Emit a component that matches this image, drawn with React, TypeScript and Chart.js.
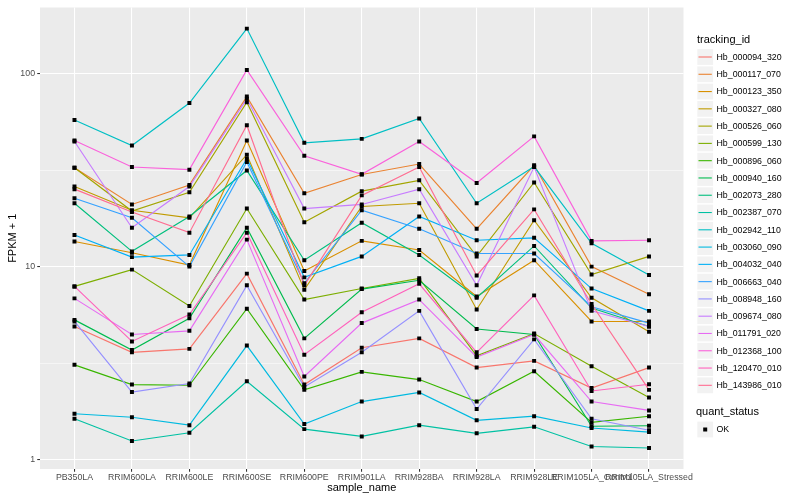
import React, { useEffect, useRef } from "react";
import { Chart, registerables } from "chart.js";

Chart.register(...registerables);

const categories = [
  "PB350LA", "RRIM600LA", "RRIM600LE", "RRIM600SE", "RRIM600PE", "RRIM901LA",
  "RRIM928BA", "RRIM928LA", "RRIM928LE", "RRIM105LA_Control", "RRIM105LA_Stressed",
];

const trackingIds = [
  "Hb_000094_320", "Hb_000117_070", "Hb_000123_350", "Hb_000327_080", "Hb_000526_060",
  "Hb_000599_130", "Hb_000896_060", "Hb_000940_160", "Hb_002073_280", "Hb_002387_070",
  "Hb_002942_110", "Hb_003060_090", "Hb_004032_040", "Hb_006663_040", "Hb_008948_160",
  "Hb_009674_080", "Hb_011791_020", "Hb_012368_100", "Hb_120470_010", "Hb_143986_010",
];

const seriesColors = [
  "#F8766D", "#EA8331", "#D89000", "#C09B00", "#A3A500", "#7CAE00", "#39B600", "#00BB4E",
  "#00BF7D", "#00C1A3", "#00BFC4", "#00BAE0", "#00B0F6", "#35A2FF", "#9590FF", "#C77CFF",
  "#E76BF3", "#FA62DB", "#FF62BC", "#FF6C91",
];

// FPKM + 1 per sample (order of categories)
const hb000094_320 = [4.9, 3.6, 3.75, 9.2, 2.45, 3.8, 4.25, 3.0, 3.25, 2.35, 3.0];
const hb000117_070 = [32.5, 21, 26.5, 76, 24, 30, 34, 15.7, 33.5, 10, 7.2];
const hb000123_350 = [13.5, 11.8, 10.2, 45, 9.5, 13.6, 12.2, 7.0, 10.8, 5.2, 5.2];
const hb000327_080 = [26, 19.6, 17.9, 38, 7.6, 20.5, 21.3, 6.0, 17.4, 6.9, 4.6];
const hb000526_060 = [32.5, 19.4, 24.3, 71, 17, 24.6, 28, 11.3, 27.3, 9.1, 11.3];
const hb000599_130 = [7.9, 9.65, 6.25, 20, 6.75, 7.7, 8.7, 3.45, 4.5, 3.05, 2.1];
const hb000896_060 = [3.1, 2.45, 2.43, 6.05, 2.3, 2.85, 2.6, 2.0, 2.87, 1.56, 1.68];
const hb000940_160 = [5.3, 3.7, 5.4, 15.9, 4.25, 7.65, 8.5, 4.75, 4.45, 1.49, 1.5];
const hb002073_280 = [21.3, 12, 18.2, 31.5, 10.8, 16.9, 11.5, 6.9, 12.8, 6.1, 4.9];
const hb002387_070 = [1.63, 1.25, 1.38, 2.55, 1.44, 1.32, 1.51, 1.37, 1.48, 1.17, 1.15];
const hb002942_110 = [57.5, 42.4, 70.4, 171, 43.8, 45.9, 58.6, 21.3, 33, 13.2, 9.05];
const hb003060_090 = [1.73, 1.66, 1.51, 3.9, 1.53, 2.0, 2.23, 1.6, 1.68, 1.46, 1.39];
const hb004032_040 = [14.6, 11.2, 11.5, 36.2, 8.8, 11.3, 18.2, 13.7, 14.1, 7.7, 5.9];
const hb006663_040 = [22.6, 17.9, 10, 34.8, 8.2, 19.6, 15.7, 11.7, 11.7, 6.2, 5.1];
const hb008948_160 = [5.2, 2.24, 2.48, 8.0, 2.38, 3.6, 5.9, 1.83, 4.2, 1.63, 1.42];
const hb009674_080 = [44.5, 15.9, 26, 74, 20, 21, 25.2, 8.0, 32.8, 5.9, 4.9];
const hb011791_020 = [6.85, 4.45, 4.65, 13.8, 2.7, 5.1, 6.75, 3.4, 4.45, 2.0, 1.8];
const hb012368_100 = [45, 32.8, 31.8, 104.5, 37.5, 30.1, 44.5, 27.1, 47.3, 13.6, 13.7];
const hb120470_010 = [7.9, 4.1, 5.65, 15, 3.5, 5.8, 8.15, 3.6, 7.1, 2.27, 2.46];
const hb143986_010 = [25.2, 19.2, 15, 54, 8.0, 23.4, 32.8, 9.0, 19.8, 6.4, 2.3];

const seriesValues = [
  hb000094_320, hb000117_070, hb000123_350, hb000327_080, hb000526_060,
  hb000599_130, hb000896_060, hb000940_160, hb002073_280, hb002387_070,
  hb002942_110, hb003060_090, hb004032_040, hb006663_040, hb008948_160,
  hb009674_080, hb011791_020, hb012368_100, hb120470_010, hb143986_010,
];

const yMajorTicks = [1, 10, 100];
const yMinorTicks = [Math.sqrt(10), Math.sqrt(1000)];
const quantStatus = ["OK"];

const FONT = '"Liberation Sans", Arial, Helvetica, sans-serif';

const isMajor = (v: number) => yMajorTicks.some((m) => Math.abs(m - v) < 1e-9);

const ggPlugin = {
  id: "ggstyle",
  beforeDraw(chart: any) {
    const { ctx, chartArea: a } = chart;
    ctx.save();
    ctx.fillStyle = "#FFFFFF";
    ctx.fillRect(0, 0, chart.width, chart.height);
    ctx.fillStyle = "#EBEBEB";
    ctx.fillRect(a.left, a.top, a.right - a.left, a.bottom - a.top);
    ctx.restore();
  },
  afterDraw(chart: any) {
    const { ctx, chartArea: a } = chart;
    ctx.save();
    // axis titles
    ctx.fillStyle = "#000000";
    ctx.font = `11px ${FONT}`;
    ctx.textAlign = "center";
    ctx.textBaseline = "middle";
    ctx.fillText("sample_name", (a.left + a.right) / 2, 488);
    ctx.save();
    ctx.translate(13, (a.top + a.bottom) / 2);
    ctx.rotate(-Math.PI / 2);
    ctx.fillText("FPKM + 1", 0, 0);
    ctx.restore();

    // legend: tracking_id
    const lx = 697;
    ctx.textAlign = "left";
    ctx.font = `11px ${FONT}`;
    ctx.fillText("tracking_id", lx, 40);
    const step = 17.28;
    trackingIds.forEach((id, i) => {
      const yc = 57 + i * step;
      ctx.fillStyle = "#F2F2F2";
      ctx.fillRect(lx + 0.3, yc - 7.9, 15.8, 15.8);
      ctx.strokeStyle = seriesColors[i];
      ctx.lineWidth = 1.1;
      ctx.beginPath();
      ctx.moveTo(lx + 1.5, yc);
      ctx.lineTo(lx + 14.8, yc);
      ctx.stroke();
      ctx.fillStyle = "#000000";
      ctx.font = `8.8px ${FONT}`;
      ctx.fillText(id, 716.5, yc + 0.5);
    });

    // legend: quant_status
    ctx.font = `11px ${FONT}`;
    ctx.fillStyle = "#000000";
    ctx.fillText("quant_status", lx - 1, 412);
    quantStatus.forEach((q, i) => {
      const yc = 429.5 + i * step;
      ctx.fillStyle = "#F2F2F2";
      ctx.fillRect(lx + 0.3, yc - 7.9, 15.8, 15.8);
      ctx.fillStyle = "#000000";
      ctx.fillRect(lx + 6.2, yc - 2, 4, 4);
      ctx.font = `8.8px ${FONT}`;
      ctx.fillText(q, 716.5, yc + 0.5);
    });
    ctx.restore();
  },
};

export default function App() {
  const ref = useRef<HTMLCanvasElement | null>(null);

  useEffect(() => {
    if (!ref.current) return;
    const lineSets = seriesValues.map((vals, i) => ({
      type: "line" as const,
      label: trackingIds[i],
      data: vals.map((v, j) => ({ x: j, y: v })),
      borderColor: seriesColors[i],
      backgroundColor: seriesColors[i],
      borderWidth: 1.15,
      pointRadius: 0,
      tension: 0,
      fill: false,
      order: 20 - i,
    }));
    const pointSet = {
      type: "scatter" as const,
      label: "quant_status",
      data: seriesValues.flatMap((vals) => vals.map((v, j) => ({ x: j, y: v }))),
      pointStyle: "rect" as const,
      pointRadius: 2.8,
      backgroundColor: "#000000",
      borderColor: "#000000",
      borderWidth: 0,
      showLine: false,
      order: -1,
    };

    const chart = new Chart(ref.current, {
      type: "line",
      data: { datasets: [...lineSets, pointSet] as any },
      options: {
        animation: false,
        responsive: false,
        maintainAspectRatio: false,
        devicePixelRatio: 1,
        layout: { padding: { top: 5, right: 116.5, left: 0, bottom: 0 } },
        plugins: { legend: { display: false }, tooltip: { enabled: false }, title: { display: false } },
        scales: {
          x: {
            type: "linear",
            min: -0.6,
            max: 10.6,
            afterBuildTicks: (s: any) => {
              s.ticks = categories.map((_, i) => ({ value: i }));
            },
            afterFit: (s: any) => {
              s.height = 31;
            },
            ticks: {
              autoSkip: false,
              maxRotation: 0,
              minRotation: 0,
              padding: 1,
              color: "#4D4D4D",
              font: { family: FONT, size: 8.8 },
              callback: (v: any) => categories[Math.round(Number(v))] ?? "",
            },
            grid: {
              color: "#FFFFFF",
              lineWidth: 1.07,
              tickLength: 2.75,
              tickColor: "#333333",
              tickWidth: 1.07,
            },
            border: { display: false },
          },
          y: {
            type: "logarithmic",
            min: 0.895,
            max: 220,
            afterBuildTicks: (s: any) => {
              s.ticks = [...yMajorTicks, ...yMinorTicks].sort((p, q) => p - q).map((v) => ({ value: v }));
            },
            afterFit: (s: any) => {
              s.width = 40;
            },
            ticks: {
              padding: 2.2,
              color: "#4D4D4D",
              font: { family: FONT, size: 8.8 },
              callback: (v: any) => (isMajor(Number(v)) ? String(Math.round(Number(v))) : ""),
            },
            grid: {
              color: "#FFFFFF",
              lineWidth: (c: any) => (c.tick && isMajor(c.tick.value) ? 1.07 : 0.53),
              tickLength: 2.75,
              tickColor: (c: any) => (c.tick && isMajor(c.tick.value) ? "#333333" : "rgba(0,0,0,0)"),
              tickWidth: 1.07,
            },
            border: { display: false },
          },
        },
      } as any,
      plugins: [ggPlugin],
    });
    return () => chart.destroy();
  }, []);

  return (
    <div style={{ position: "absolute", left: 0, top: 0, width: 800, height: 500 }}>
      <canvas ref={ref} width={800} height={500} style={{ width: 800, height: 500 }} />
    </div>
  );
}
